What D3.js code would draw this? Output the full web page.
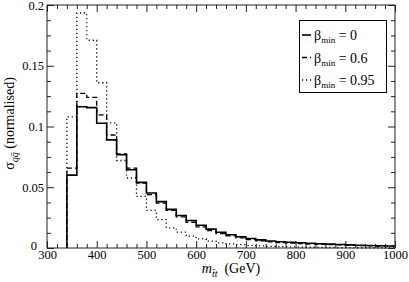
<!DOCTYPE html>
<html>

<head>
    <meta charset="utf-8">
    <title>Normalised m_tt distribution</title>
    <script src="https://cdn.jsdelivr.net/npm/d3@7"></script>
    <style>
        body {
            margin: 0;
            background: white;
        }
    </style>
</head>

<body>
    <script>
        // Bin lower edges (GeV), 20 GeV wide from 340 to 1000
        const binStarts = d3.range(340, 1000, 20);

        const beta0 = [0.0600, 0.1163, 0.1155, 0.1027, 0.0890, 0.0767, 0.0644, 0.0540, 0.0453, 0.0382, 0.0318,
            0.0267, 0.0226, 0.0187, 0.0155, 0.0130, 0.0109, 0.0092, 0.0078, 0.0067, 0.0058, 0.0052,
            0.0047, 0.0043, 0.0039, 0.0035, 0.0032, 0.0029, 0.0026, 0.0023, 0.0021, 0.0019, 0.0017];
        const beta06 = [0.0658, 0.1273, 0.1240, 0.1095, 0.0930, 0.0775, 0.0658, 0.0535, 0.0439, 0.0370, 0.0310,
            0.0256, 0.0212, 0.0174, 0.0144, 0.0119, 0.0100, 0.0083, 0.0069, 0.0058, 0.0050, 0.0044,
            0.0040, 0.0036, 0.0033, 0.0030, 0.0027, 0.0025, 0.0022, 0.0020, 0.0018, 0.0016, 0.0015];
        const beta095 = [0.1080, 0.1934, 0.1710, 0.1360, 0.1030, 0.0720, 0.0576, 0.0425, 0.0310, 0.0234, 0.0166,
            0.0130, 0.0097, 0.0075, 0.0056, 0.0043, 0.0034, 0.0027, 0.0021, 0.0017, 0.0013, 0.0011,
            0.0009, 0.0007, 0.0006, 0.0005, 0.0004, 0.0003, 0.0003, 0.0002, 0.0002, 0.0002, 0.0001];

        const seriesNames = ['0', '0.6', '0.95'];
        const xTicks = [300, 400, 500, 600, 700, 800, 900, 1000];
        const yTicks = [0, 0.05, 0.1, 0.15, 0.2];

        const serif = '"Liberation Serif", "Times New Roman", Times, serif';

        const width = 409;
        const height = 282;
        const margin = { top: 5, right: 14, bottom: 34, left: 47 };
        const innerW = width - margin.left - margin.right;
        const innerH = height - margin.top - margin.bottom;

        const svg = d3.select('body')
            .append('svg')
            .attr('width', width)
            .attr('height', height);

        const g = svg.append('g')
            .attr('transform', `translate(${margin.left}, ${margin.top})`);

        const x = d3.scaleLinear().domain([300, 1000]).range([0, innerW]);
        const y = d3.scaleLinear().domain([0, 0.2]).range([innerH, 0]);

        // Histogram step lines
        const styles = [
            { values: beta0, dash: null, width: 1.6 },
            { values: beta06, dash: '5,3', width: 1.3 },
            { values: beta095, dash: '1.2,2.8', width: 1.3 }
        ];

        const stepLine = d3.line()
            .x(d => x(d[0]))
            .y(d => y(d[1]))
            .curve(d3.curveStepAfter);

        styles.forEach(s => {
            const pts = [[binStarts[0], 0]];
            binStarts.forEach((b, i) => pts.push([b, s.values[i]]));
            pts.push([1000, s.values[s.values.length - 1]]);
            g.append('path')
                .datum(pts)
                .attr('fill', 'none')
                .attr('stroke', 'black')
                .attr('stroke-width', s.width)
                .attr('stroke-dasharray', s.dash)
                .attr('d', stepLine);
        });

        // Frame
        g.append('rect')
            .attr('x', 0)
            .attr('y', 0)
            .attr('width', innerW)
            .attr('height', innerH)
            .attr('fill', 'none')
            .attr('stroke', '#222')
            .attr('stroke-width', 1);

        const xMinor = d3.range(300, 1001, 20).filter(v => v % 100 !== 0);
        const yMinor = d3.range(0, 0.2001, 0.0125).filter((v, i) => i % 4 !== 0);

        // Bottom axis (ticks pointing inward)
        g.append('g')
            .attr('transform', `translate(0, ${innerH})`)
            .call(d3.axisBottom(x).tickValues(xTicks).tickFormat(d3.format('d'))
                .tickSizeInner(-7).tickSizeOuter(0).tickPadding(2));
        g.append('g')
            .attr('transform', `translate(0, ${innerH})`)
            .call(d3.axisBottom(x).tickValues(xMinor).tickFormat('')
                .tickSizeInner(-4).tickSizeOuter(0));

        // Top axis
        g.append('g')
            .call(d3.axisTop(x).tickValues(xTicks).tickFormat('').tickSizeInner(-7).tickSizeOuter(0));
        g.append('g')
            .call(d3.axisTop(x).tickValues(xMinor).tickFormat('').tickSizeInner(-4).tickSizeOuter(0));

        // Left axis
        g.append('g')
            .attr('class', 'y-left')
            .call(d3.axisLeft(y).tickValues(yTicks).tickFormat(d => String(d))
                .tickSizeInner(-7).tickSizeOuter(0).tickPadding(3));
        g.append('g')
            .call(d3.axisLeft(y).tickValues(yMinor).tickFormat('').tickSizeInner(-4).tickSizeOuter(0));

        // Right axis
        g.append('g')
            .attr('transform', `translate(${innerW}, 0)`)
            .call(d3.axisRight(y).tickValues(yTicks).tickFormat('').tickSizeInner(-7).tickSizeOuter(0));
        g.append('g')
            .attr('transform', `translate(${innerW}, 0)`)
            .call(d3.axisRight(y).tickValues(yMinor).tickFormat('').tickSizeInner(-4).tickSizeOuter(0));

        g.selectAll('.domain').remove();
        g.selectAll('.tick line').attr('stroke', '#222');
        g.selectAll('.tick text')
            .style('font-size', '12.5px')
            .attr('fill', 'black');
        // keep the y-axis "0" clear of the "300" just below it
        g.select('.y-left').selectAll('.tick text').filter(d => d === 0)
            .attr('dy', '0.1em')
            .attr('x', -10);

        // X axis title
        const xTitle = g.append('text')
            .attr('x', innerW / 2 + 10)
            .attr('y', innerH + 25)
            .attr('text-anchor', 'middle')
            .style('font-size', '14px');
        xTitle.append('tspan').style('font-style', 'italic').text('m');
        xTitle.append('tspan').attr('dy', 4).style('font-size', '10px').style('font-style', 'italic').text('t\u0304t');
        xTitle.append('tspan').attr('dy', -4).text('\u00a0\u00a0(GeV)');

        // Y axis title
        const yTitle = svg.append('text')
            .attr('transform', `translate(14, ${margin.top + innerH / 2 - 3}) rotate(-90)`)
            .attr('text-anchor', 'middle')
            .style('font-size', '14px');
        yTitle.append('tspan').text('\u03c3');
        yTitle.append('tspan').attr('dy', 4).style('font-size', '10px').style('font-style', 'italic').text('qq\u0304');
        yTitle.append('tspan').attr('dy', -4).text(' (normalised)');

        // Legend
        const legend = svg.append('g').attr('transform', 'translate(299, 20)');
        legend.append('rect')
            .attr('x', 0.5)
            .attr('y', 0.5)
            .attr('width', 87)
            .attr('height', 72)
            .attr('fill', 'white')
            .attr('stroke', 'black')
            .attr('stroke-width', 1);

        seriesNames.forEach((name, i) => {
            const rowY = 15 + i * 22.5;
            legend.append('line')
                .attr('x1', 3)
                .attr('x2', 12)
                .attr('y1', rowY)
                .attr('y2', rowY)
                .attr('stroke', 'black')
                .attr('stroke-width', styles[i].width)
                .attr('stroke-dasharray', styles[i].dash);
            const t = legend.append('text')
                .attr('x', 15)
                .attr('y', rowY + 5)
                .style('font-size', '14px');
            t.append('tspan').text('\u03b2');
            t.append('tspan').attr('dy', 3).style('font-size', '9px').text('min');
            t.append('tspan').attr('dy', -3).text(' = ' + name);
        });

        // Serif font everywhere (overrides the axis default)
        svg.selectAll('text').style('font-family', serif);
    </script>
</body>

</html>
